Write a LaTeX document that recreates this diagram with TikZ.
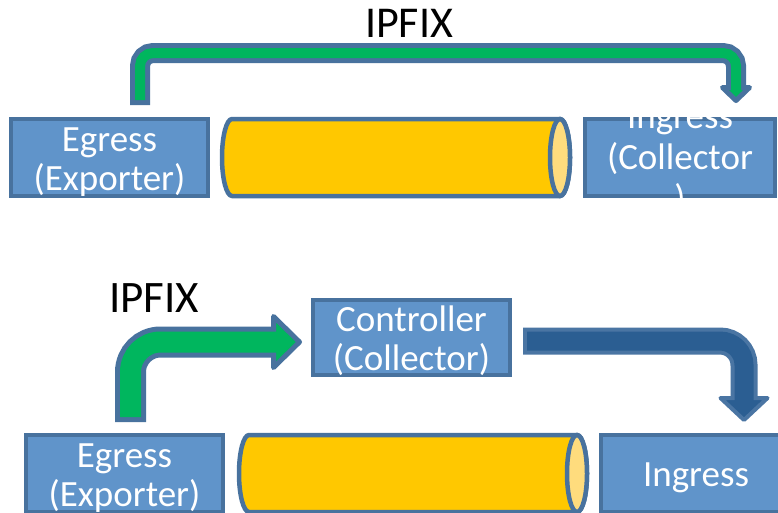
\documentclass[tikz,border=0pt]{standalone}
\usepackage{fontspec}
\setmainfont{Carlito}
\usetikzlibrary{calc}
\definecolor{boxfill}{RGB}{96,148,202}
\definecolor{edge}{RGB}{72,114,158}
\definecolor{gold}{RGB}{255,200,0}
\definecolor{goldend}{RGB}{255,220,125}
\definecolor{grn}{RGB}{0,182,94}
\definecolor{navy}{RGB}{43,94,146}
\definecolor{navyedge}{RGB}{74,117,163}
\newcommand{\lsa}{\rule[-6pt]{0pt}{39pt}}
\newcommand{\lsb}{\rule[-8.5pt]{0pt}{41pt}}
\newcommand{\boxlines}[1]{\vbox to 0pt{\vss\offinterlineskip\halign{\hfil##\hfil\cr#1\crcr}\vss}}
\begin{document}
\begin{tikzpicture}[x=1pt,y=-1pt,
  box/.style={draw=edge, line width=4.5pt, fill=boxfill, text=white, inner sep=0pt, outer sep=0pt,
    minimum width=197pt, minimum height=77pt, font=\fontsize{37pt}{39pt}\selectfont},
  cyl/.style={draw=edge, line width=4.5pt, fill=gold, line join=round},
  cylend/.style={draw=edge, line width=4.5pt, fill=goldend},
  gout/.style={draw=edge, line width=20pt, rounded corners=13pt},
  gin/.style={draw=grn, line width=10pt, rounded corners=13pt},
  ghead/.style={fill=grn, draw=edge, line width=5pt, line join=round},
  g2out/.style={draw=edge, line width=31pt, rounded corners=30pt},
  g2in/.style={draw=grn, line width=21pt, rounded corners=30pt},
  bout/.style={draw=navyedge, line width=27pt, rounded corners=24pt},
  bin/.style={draw=navy, line width=19pt, rounded corners=24pt},
  bhead/.style={fill=navy, draw=navyedge, line width=4pt, line join=round},
  lbl/.style={text=black, inner sep=0pt, anchor=base}]
\useasboundingbox[fill=white] (0,0) rectangle (778,512);

% ---- top row ----
\node[box] (eg1) at (109.5,157.5) {\boxlines{\lsa Egress\cr\lsa (Exporter)}};
\node[box, minimum width=190pt] (ing1) at (680,157.5) {\boxlines{\lsb Ingress\cr\lsb (Collector\cr\lsb )}};
\draw[cyl] (232,119) -- (560,119) arc[start angle=90,end angle=-90,x radius=10pt,y radius=38.5pt]
  -- (232,196) arc[start angle=270,end angle=90,x radius=10pt,y radius=38.5pt] -- cycle;
\draw[cylend] (560,157.5) ellipse[x radius=10pt, y radius=38.5pt];

\node[lbl, font=\fontsize{44pt}{48pt}\selectfont] (ip1) at (409,37) {IPFIX};

\coordinate (a1s) at ([xshift=30.5pt,yshift=14pt]eg1.north);
\coordinate (a1e) at ([xshift=56pt,yshift=31.5pt]ing1.north);
\coordinate (a1t) at ([xshift=56pt,yshift=18.5pt]ing1.north);
\coordinate (a1h) at (0,53);
\draw[gout] (a1s) -- (a1s |- a1h) -- (a1e |- a1h) -- (a1e);
\draw[ghead] ([xshift=-13.5pt]a1e) -- ([xshift=13.5pt]a1e) -- (a1t) -- cycle;
\draw[gin] ([yshift=5pt]a1s) -- (a1s |- a1h) -- (a1e |- a1h) -- ([yshift=-4pt]a1e);

% ---- bottom row ----
\node[box] (eg2) at (124.5,473.5) {\boxlines{\lsa Egress\cr\lsa (Exporter)}};
\node[box, minimum width=190pt] (ing2) at (696,473.5) {\boxlines{\lsa Ingress}};
\node[box, minimum height=75pt] (ctl) at (411.5,337.5) {\boxlines{\lsa Controller\cr\lsa (Collector)}};
\draw[cyl] (249,435) -- (577,435) arc[start angle=90,end angle=-90,x radius=10pt,y radius=38.5pt]
  -- (249,512) arc[start angle=270,end angle=90,x radius=10pt,y radius=38.5pt] -- cycle;
\draw[cylend] (577,473.5) ellipse[x radius=10pt, y radius=38.5pt];

\node[lbl, font=\fontsize{45pt}{49pt}\selectfont] (ip2) at (154,312) {IPFIX};

\coordinate (a2s) at ([xshift=6pt,yshift=13pt]eg2.north);
\coordinate (a2e) at ([xshift=-39.5pt,yshift=-4.5pt]ctl.west);
\coordinate (a2t) at ([xshift=-13.5pt,yshift=-4.5pt]ctl.west);
\draw[g2out] (a2s) -- (a2s |- a2e) -- (a2e);
\draw[ghead] ([yshift=25.5pt]a2e) -- (a2t) -- ([yshift=-25.5pt]a2e) -- cycle;
\draw[g2in] ([yshift=5pt]a2s) -- (a2s |- a2e) -- ([xshift=4pt]a2e);

\coordinate (a3s) at ([xshift=13pt,yshift=-3.5pt]ctl.east);
\coordinate (a3e) at ([xshift=48pt,yshift=37pt]ing2.north);
\coordinate (a3t) at ([xshift=48pt,yshift=15pt]ing2.north);
\draw[bout] (a3s) -- (a3s -| a3e) -- (a3e);
\draw[bhead] ([xshift=-23.5pt]a3e) -- ([xshift=23.5pt]a3e) -- (a3t) -- cycle;
\draw[bin] ([xshift=4pt]a3s) -- (a3s -| a3e) -- ([yshift=-4pt]a3e);
\end{tikzpicture}
\end{document}
